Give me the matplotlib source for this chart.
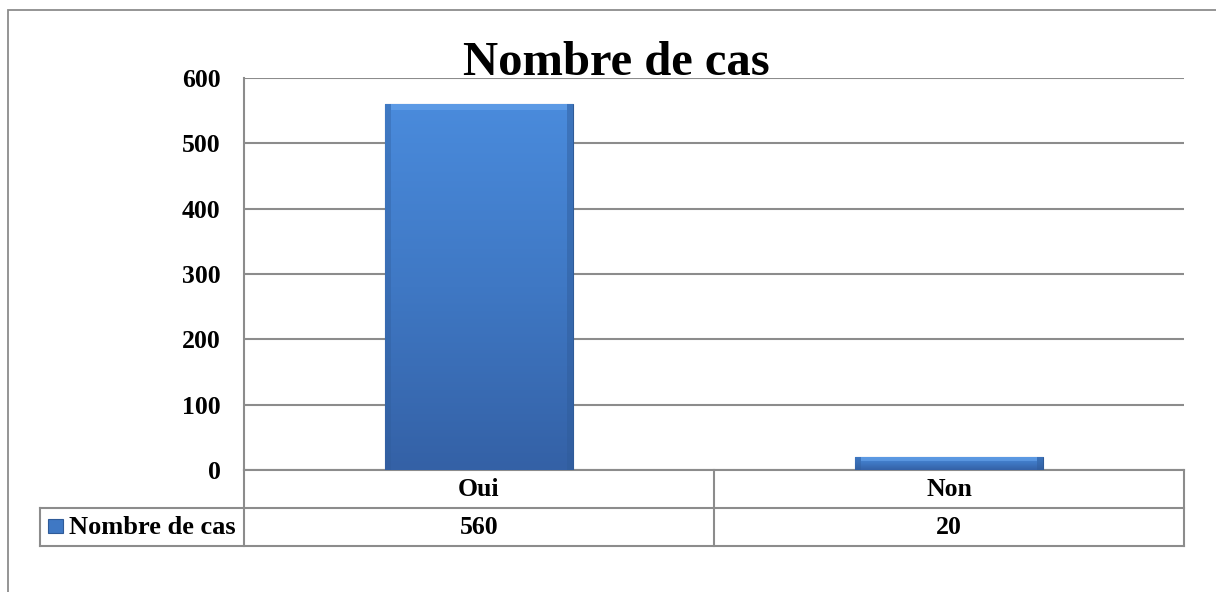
import matplotlib
matplotlib.use("Agg")
import matplotlib.pyplot as plt
from matplotlib.patches import Rectangle
from matplotlib.lines import Line2D
import numpy as np

categories = ["Oui", "Non"]
valeurs = [560, 20]
serie = "Nombre de cas"
yticks = [0, 100, 200, 300, 400, 500, 600]

plt.rcParams["font.family"] = ["Liberation Serif", "DejaVu Serif"]
plt.rcParams["font.weight"] = "bold"

W, H = 1216, 592
fig = plt.figure(figsize=(W / 100, H / 100), dpi=100)
ax = fig.add_axes([244 / W, 1 - 470 / H, 940 / W, 392 / H])

grise = "#8c8c8c"

# cadre extérieur (dépasse à droite et en bas)
fig.add_artist(Rectangle((8 / W, -0.05), 1.2, 1 - 10 / H + 0.05, transform=fig.transFigure,
                         fill=False, edgecolor=grise, lw=1.3))

x = np.arange(len(categories))
bars = ax.bar(x, valeurs, width=0.4, color="#3f78c4", edgecolor="#2f5b98", lw=0.8, zorder=3)

# dégradé vertical dans chaque barre + reflet en haut
grad = np.linspace(0, 1, 256).reshape(-1, 1)
cmap = matplotlib.colors.LinearSegmentedColormap.from_list("b", ["#3461a6", "#3f78c4", "#4a8bdc"])
for b in bars:
    x0, y0, w, h = b.get_x(), b.get_y(), b.get_width(), b.get_height()
    im = ax.imshow(grad, extent=[x0, x0 + w, y0, y0 + h], origin="lower", cmap=cmap,
                   aspect="auto", zorder=4)
    im.set_clip_path(b)
    s = min(h * 0.3, 9)
    ax.add_patch(Rectangle((x0 + w * 0.03, y0 + h - s), w * 0.94, s, facecolor="#6aa6ec",
                           edgecolor="none", zorder=5, alpha=0.6))
    ax.add_patch(Rectangle((x0, y0), w * 0.03, h, facecolor="#2f5b98",
                           edgecolor="none", zorder=5, alpha=0.35))
    ax.add_patch(Rectangle((x0 + w * 0.97, y0), w * 0.03, h, facecolor="#2f5b98",
                           edgecolor="none", zorder=5, alpha=0.45))

ax.set_xlim(-0.5, len(categories) - 0.5)
ax.set_ylim(0, 600)
ax.set_yticks(yticks)
ax.set_yticklabels([str(t) for t in yticks], fontsize=18.5, fontweight="bold")
ax.tick_params(axis="y", length=0, pad=17)
ax.set_xticks([])
ax.yaxis.grid(True, color=grise, lw=1.5, zorder=0)
ax.set_axisbelow(True)
for s in ["top", "right", "bottom"]:
    ax.spines[s].set_visible(False)
ax.spines["left"].set_color(grise)
ax.spines["left"].set_linewidth(1.5)

# titre
fig.text(616 / W, 1 - 75 / H, "Nombre de cas", fontsize=35, fontweight="bold",
         ha="center", va="baseline")

# table de données sous l'axe
tr = ax.get_xaxis_transform()
r1 = -38 / 392
r2 = -76 / 392
gauche = -0.5 - 204 / 470
droite = len(categories) - 0.5
kw = dict(color=grise, lw=1.5, transform=tr, clip_on=False)
ax.add_line(Line2D([-0.5, droite], [0, 0], **kw))
ax.add_line(Line2D([gauche, droite], [r1, r1], **kw))
ax.add_line(Line2D([gauche, droite], [r2, r2], **kw))
ax.add_line(Line2D([-0.5, -0.5], [0, r2], **kw))
ax.add_line(Line2D([gauche, gauche], [r1, r2], **kw))
for i in range(len(categories)):
    ax.add_line(Line2D([i + 0.5, i + 0.5], [0, r2], **kw))
    ax.text(i, r1 / 2, categories[i], transform=tr, ha="center", va="center",
            fontsize=18.5, fontweight="bold")
    ax.text(i, (r1 + r2) / 2, str(valeurs[i]), transform=tr, ha="center", va="center",
            fontsize=18.5, fontweight="bold")

# légende dans la table
ax.add_patch(Rectangle((gauche + 8 / 470, r1 - 11 / 392), 15 / 470, -14 / 392, transform=tr,
                       clip_on=False, facecolor="#3f78c4", edgecolor="#2f5b98", lw=0.8))
ax.text(gauche + 29 / 470, (r1 + r2) / 2, serie, transform=tr, ha="left", va="center",
        fontsize=19, fontweight="bold")

fig.savefig("out.png", dpi=100)
